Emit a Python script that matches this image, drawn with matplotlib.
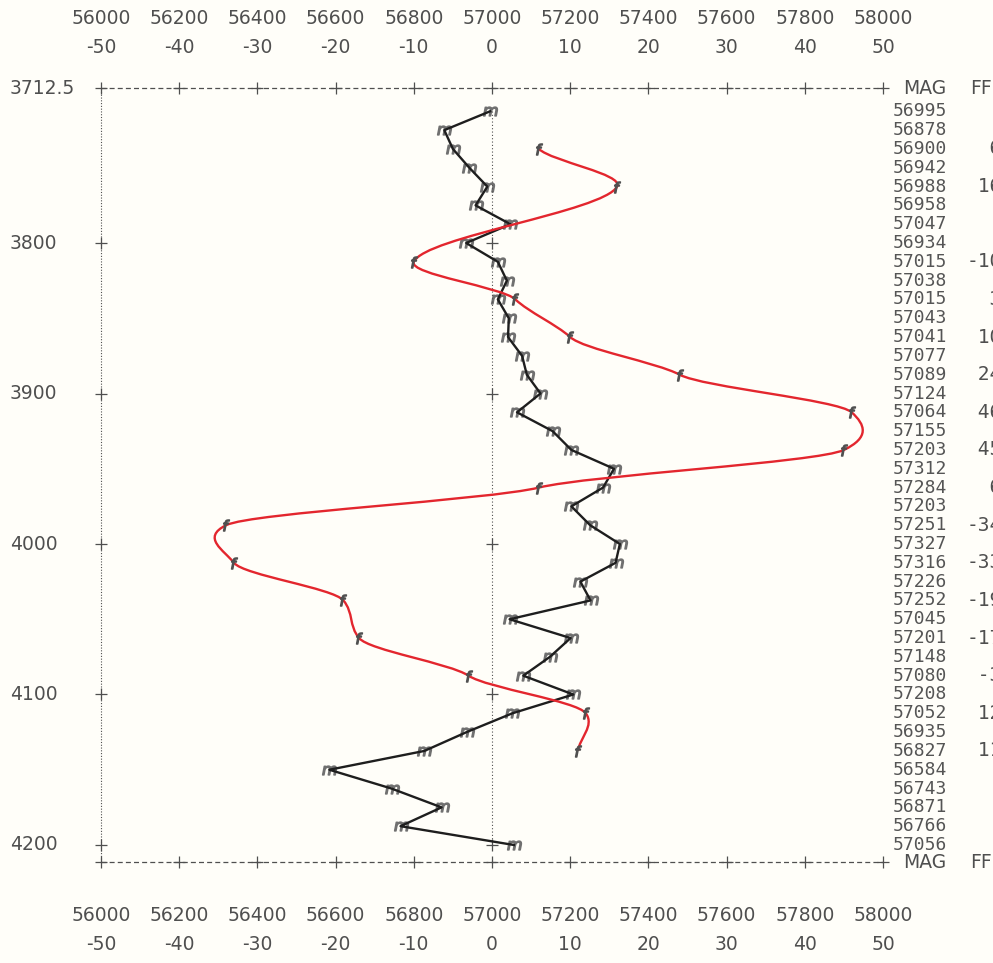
import matplotlib.pyplot as plt
from matplotlib.path import Path
from matplotlib.patches import PathPatch

# profondeur des mesures (une ligne de listing tous les 12.5)
depth = [3712.5, 3725, 3737.5, 3750, 3762.5, 3775, 3787.5, 3800, 3812.5, 3825,
         3837.5, 3850, 3862.5, 3875, 3887.5, 3900, 3912.5, 3925, 3937.5, 3950,
         3962.5, 3975, 3987.5, 4000, 4012.5, 4025, 4037.5, 4050, 4062.5, 4075,
         4087.5, 4100, 4112.5, 4125, 4137.5, 4150, 4162.5, 4175, 4187.5, 4200]
mag = [56995, 56878, 56900, 56942, 56988, 56958, 57047, 56934, 57015, 57038,
       57015, 57043, 57041, 57077, 57089, 57124, 57064, 57155, 57203, 57312,
       57284, 57203, 57251, 57327, 57316, 57226, 57252, 57045, 57201, 57148,
       57080, 57208, 57052, 56935, 56827, 56584, 56743, 56871, 56766, 57056]

# gradient FF (un point sur deux)
ff_depth = [3737.5, 3762.5, 3812.5, 3837.5, 3862.5, 3887.5, 3912.5, 3937.5,
            3962.5, 3987.5, 4012.5, 4037.5, 4062.5, 4087.5, 4112.5, 4137.5]
ff = [6, 16, -10, 3, 10, 24, 46, 45, 6, -34, -33, -19, -17, -3, 12, 11]

mag_ticks = [56000, 56200, 56400, 56600, 56800, 57000, 57200, 57400, 57600, 57800, 58000]
ff_ticks = [-50, -40, -30, -20, -10, 0, 10, 20, 30, 40, 50]
depth_ticks = [3800, 3900, 4000, 4100, 4200]
top_label = "3712.5"

plt.rcParams['font.family'] = ['DejaVu Sans']
ink = '#4f4f4f'
fs = 13.5

fig = plt.figure(figsize=(9.93, 9.63), dpi=100, facecolor='#fffef9')
ax = fig.add_axes([101/993, 101/963, 782/993, 774/963])
ax.set_xlim(56000, 58000)
ax.set_ylim(4211.3, 3697.0)
ax.axis('off')
ax2 = ax.twiny()
ax2.set_xlim(-50, 50)
ax2.set_ylim(4211.3, 3697.0)
ax2.axis('off')

xt = ax.get_xaxis_transform()
yt = ax.get_yaxis_transform()
xt2 = ax2.get_xaxis_transform()

# cadre facon imprimante
for yy in (0, 1):
    ax.plot([56000, 58000], [yy, yy], transform=xt, ls=(0, (4, 2.5)), color=ink, lw=0.9, clip_on=False)
    ax.plot(mag_ticks, [yy] * len(mag_ticks), '+', transform=xt, color=ink, ms=9, mew=0.9, clip_on=False)
ax.plot([0, 0], [0, 1], transform=ax.transAxes, ls=(0, (1, 1.5)), color=ink, lw=0.8, clip_on=False)
ax.plot([0] * len(depth_ticks), depth_ticks, '+', transform=yt, color=ink, ms=9, mew=0.9, clip_on=False)
ax.plot([57000, 57000], [depth[0], depth[-1]], ls=(0, (1, 2)), color=ink, lw=0.8)
ax.plot([57000] * len(depth_ticks), depth_ticks, '+', color=ink, ms=9, mew=0.9)

# echelles haut et bas
for v in mag_ticks:
    ax.text(v, 1.0904, str(v), transform=xt, ha='center', va='center', color=ink, fontsize=fs)
    ax.text(v, -0.0685, str(v), transform=xt, ha='center', va='center', color=ink, fontsize=fs)
for v in ff_ticks:
    ax2.text(v, 1.0517, str(v), transform=xt2, ha='center', va='center', color=ink, fontsize=fs)
    ax2.text(v, -0.107, str(v), transform=xt2, ha='center', va='center', color=ink, fontsize=fs)

ax.text(-0.1164, 1.0, top_label, transform=ax.transAxes, ha='left', va='center', color=ink, fontsize=fs)
for d in depth_ticks:
    ax.text(-0.1164, d, str(d), transform=yt, ha='left', va='center', color=ink, fontsize=fs)

for yy in (1.0, 0.0):
    ax.text(1.026, yy, "MAG", transform=ax.transAxes, ha='left', va='center', color=ink, fontsize=fs)
    ax.text(1.111, yy, "FF", transform=ax.transAxes, ha='left', va='center', color=ink, fontsize=fs)

# colonnes de valeurs a droite (la colonne FF est coupee par le bord)
for d, m in zip(depth, mag):
    ax.text(1.0128, d, str(m), transform=yt, ha='left', va='center', color='#555555', fontsize=13,
            family='DejaVu Sans Mono')
for d, f in zip(ff_depth, ff):
    ax.text(1.1065, d, "%3d" % f, transform=yt, ha='left', va='center', color=ink, fontsize=14,
            family='DejaVu Sans Mono')

# MAG : trait noir
ax.plot(mag, depth, ls='none', marker='$m$', color='#707070', ms=10, zorder=1)
ax.plot(mag, depth, color='#1e1e1e', lw=1.7, zorder=2)

# FF : courbe rouge lissee (spline cardinale, x fonction de la profondeur)
tension = 0.5
n = len(ff)
slopes = []
for i in range(n):
    a = max(i - 1, 0)
    b = min(i + 1, n - 1)
    slopes.append(tension * (ff[b] - ff[a]) / (ff_depth[b] - ff_depth[a]))
verts = [(ff[0], ff_depth[0])]
codes = [Path.MOVETO]
for i in range(n - 1):
    h = (ff_depth[i + 1] - ff_depth[i]) / 3
    verts += [(ff[i] + slopes[i] * h, ff_depth[i] + h),
              (ff[i + 1] - slopes[i + 1] * h, ff_depth[i + 1] - h),
              (ff[i + 1], ff_depth[i + 1])]
    codes += [Path.CURVE4] * 3
ax2.add_patch(PathPatch(Path(verts, codes), fill=False, edgecolor='#e3262e', lw=1.7, zorder=3))
ax2.plot(ff, ff_depth, ls='none', marker='$f$', color='#505050', ms=8, zorder=4)

fig.savefig('out.png', dpi=100, facecolor=fig.get_facecolor())
